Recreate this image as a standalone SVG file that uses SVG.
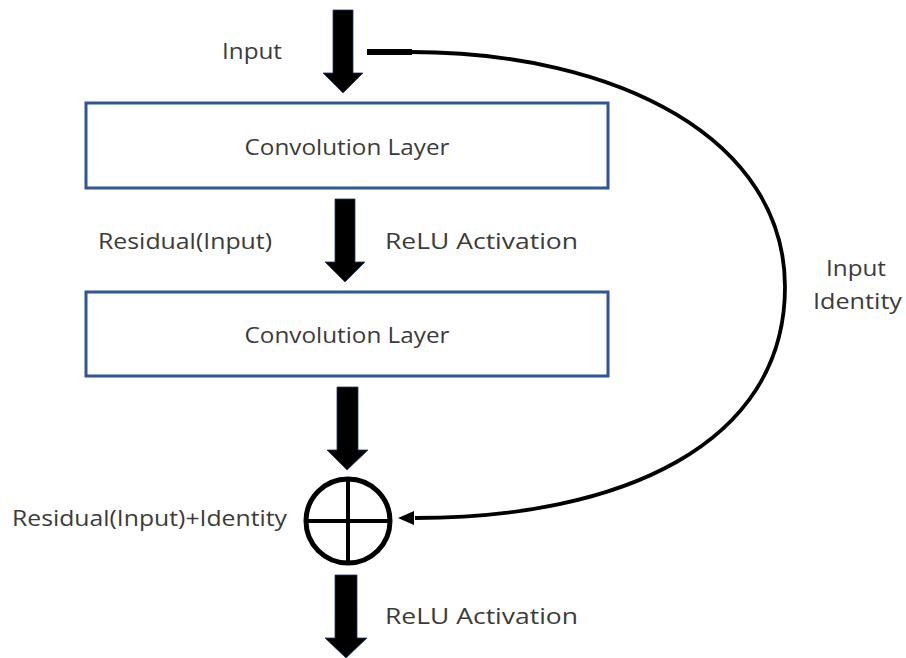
<svg xmlns="http://www.w3.org/2000/svg" width="906" height="658" viewBox="0 0 906 658">
<style>
.box{fill:#fff;stroke:#2f5597;stroke-width:3}
.arr{fill:#000;stroke:#1f3864;stroke-width:0.8}
.t{font-family:"Open Sans","Liberation Sans",sans-serif;font-size:22px;fill:#3b3b3b}
.mid{text-anchor:middle}
.con{fill:none;stroke:#000;stroke-width:3.8}
</style>
<defs>
<marker id="ah" markerWidth="16" markerHeight="14" refX="1" refY="7" orient="auto" markerUnits="userSpaceOnUse">
<path d="M0,7 L16,0 L16,14 Z" fill="#000"/>
</marker>
</defs>
<rect width="906" height="658" fill="#fff"/>
<g id="connectors">
<path id="arrow-in" class="arr" d="M333,10 H353 V73 H363 L343,93 L323,73 H333 Z"/>
<path id="arrow-relu1" class="arr" d="M335,199 H355 V262 H365 L345,282 L325,262 H335 Z"/>
<path id="arrow-conv2" class="arr" d="M337,387 H358 V450 H368 L347,470 L327,450 H337 Z"/>
<path id="arrow-out" class="arr" d="M335,575 H357 V638 H367 L346,658 L325,638 H335 Z"/>
<line x1="367" y1="52" x2="412" y2="52" stroke="#000" stroke-width="6"/>
<path class="con" d="M410,52 C620,52 785,140 785,287 C785,445 620,518 415,518"/>
<path d="M398,518 L414,511 L414,525 Z" fill="#000"/>
</g>
<g id="conv1">
<rect class="box" x="86" y="103" width="522" height="85"/>
<text class="t mid" x="347" y="155" textLength="205" lengthAdjust="spacingAndGlyphs">Convolution Layer</text>
</g>
<g id="conv2">
<rect class="box" x="86" y="292" width="522" height="84"/>
<text class="t mid" x="347" y="343" textLength="205" lengthAdjust="spacingAndGlyphs">Convolution Layer</text>
</g>
<g id="sum">
<circle cx="348" cy="521" r="42" fill="#fff" stroke="#000" stroke-width="5"/>
<line x1="348" y1="479" x2="348" y2="563" stroke="#000" stroke-width="4"/>
<line x1="306" y1="521" x2="390" y2="521" stroke="#000" stroke-width="4"/>
</g>
<g id="labels">
<text class="t" x="222" y="59" textLength="60" lengthAdjust="spacingAndGlyphs">Input</text>
<text class="t" x="98" y="249" textLength="174" lengthAdjust="spacingAndGlyphs">Residual(Input)</text>
<text class="t" x="385" y="249" textLength="193" lengthAdjust="spacingAndGlyphs">ReLU Activation</text>
<text class="t" x="826" y="276" textLength="60" lengthAdjust="spacingAndGlyphs">Input</text>
<text class="t" x="813" y="309" textLength="89" lengthAdjust="spacingAndGlyphs">Identity</text>
<text class="t" x="12" y="526" textLength="275" lengthAdjust="spacingAndGlyphs">Residual(Input)+Identity</text>
<text class="t" x="385" y="624" textLength="193" lengthAdjust="spacingAndGlyphs">ReLU Activation</text>
</g>
</svg>
